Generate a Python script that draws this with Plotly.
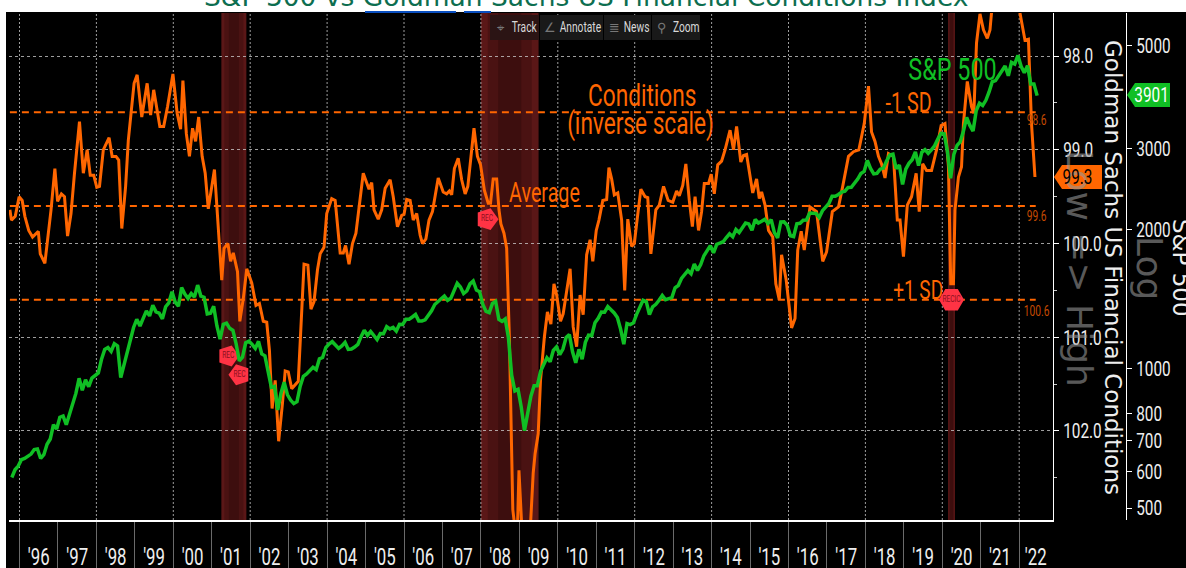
import plotly.graph_objects as go

W, H = 1186, 568
PL, PR, PT, PB = 9, 1053, 13, 520   # plot rectangle in page pixels
R2 = 1126                           # second axis line

# ---------- data ----------
title_text = "S&P 500 vs Goldman Sachs US Financial Conditions Index"
year_ticks = list(range(1996, 2023))
year_labels = ["'%02d" % (y % 100) for y in year_ticks]
grid_years = list(range(1996, 2023, 2))
recessions = [(2001.25, 2001.90), (2008.00, 2009.50), (2020.15, 2020.33)]

left_ticks = [98, 99, 100, 101, 102]
left_minor = [98.5, 99.5, 100.5, 101.5, 102.5]
right_ticks = [500, 600, 700, 800, 1000, 2000, 3000, 5000]
sd_levels = [98.6, 99.6, 100.6]
sd_labels = ["98.6", "99.6", "100.6"]
sd_span = [1995.75, 2022.43]

spx_start = 1995.80
spx = [582, 605, 616,
       636, 640, 646, 654, 669, 671, 640, 652, 687, 705, 757, 741,
       786, 791, 757, 801, 848, 885, 954, 899, 947, 915, 955, 970,
       980, 1049, 1102, 1112, 1091, 1134, 1121, 957, 1017, 1099, 1164, 1229,
       1280, 1238, 1286, 1335, 1302, 1373, 1329, 1320, 1283, 1363, 1389, 1469,
       1394, 1366, 1499, 1452, 1421, 1455, 1431, 1518, 1437, 1429, 1315, 1320,
       1366, 1240, 1160, 1249, 1256, 1224, 1211, 1134, 1041, 1060, 1139, 1148,
       1130, 1107, 1147, 1077, 1067, 990, 912, 916, 815, 886, 936, 880,
       856, 841, 849, 917, 964, 975, 990, 1008, 996, 1051, 1058, 1112,
       1131, 1145, 1126, 1107, 1121, 1141, 1102, 1104, 1115, 1130, 1174, 1212,
       1181, 1204, 1181, 1157, 1192, 1191, 1234, 1220, 1229, 1207, 1249, 1248,
       1280, 1281, 1295, 1311, 1270, 1270, 1277, 1304, 1336, 1378, 1401, 1418,
       1438, 1407, 1421, 1482, 1531, 1503, 1455, 1474, 1527, 1549, 1481, 1468,
       1379, 1331, 1323, 1386, 1400, 1280, 1267, 1283, 1166, 969, 896, 903,
       826, 735, 798, 873, 919, 919, 987, 1021, 1057, 1036, 1096, 1115,
       1074, 1104, 1169, 1187, 1089, 1031, 1102, 1049, 1141, 1183, 1181, 1258,
       1286, 1327, 1326, 1364, 1345, 1321, 1292, 1219, 1131, 1253, 1247, 1258,
       1312, 1366, 1408, 1398, 1310, 1362, 1379, 1407, 1441, 1412, 1416, 1426,
       1498, 1515, 1569, 1598, 1631, 1606, 1686, 1633, 1682, 1757, 1806, 1848,
       1783, 1859, 1872, 1884, 1924, 1960, 1931, 2003, 1972, 2018, 2068, 2059,
       1995, 2105, 2068, 2086, 2107, 2063, 2104, 1972, 1920, 2079, 2080, 2044,
       1940, 1932, 2060, 2065, 2097, 2099, 2174, 2171, 2168, 2126, 2199, 2239,
       2279, 2364, 2363, 2384, 2412, 2423, 2470, 2472, 2519, 2575, 2648, 2674,
       2824, 2714, 2641, 2648, 2705, 2718, 2816, 2902, 2914, 2712, 2760, 2507,
       2704, 2784, 2834, 2946, 2752, 2942, 2980, 2926, 2977, 3038, 3141, 3231,
       3226, 2954, 2585, 2912, 3044, 3100, 3271, 3500, 3363, 3270, 3622, 3756,
       3714, 3811, 3973, 4181, 4204, 4298, 4395, 4523, 4308, 4605, 4567, 4766,
       4516, 4374, 4530, 4132, 4132, 3901]

gs_dates = [1995.75, 1995.79, 1995.89, 1995.99, 1996.07, 1996.14, 1996.24, 1996.34, 1996.49, 1996.54,
            1996.66, 1996.82, 1996.92, 1996.99, 1997.09, 1997.17, 1997.25, 1997.34, 1997.43, 1997.56,
            1997.66, 1997.76, 1997.84, 1997.93, 1998.01, 1998.08, 1998.18, 1998.33, 1998.41, 1998.51,
            1998.58, 1998.66, 1998.76, 1998.83, 1998.98, 1999.06, 1999.18, 1999.32, 1999.41, 1999.49,
            1999.65, 1999.75, 1999.85, 1999.99, 2000.10, 2000.19, 2000.25, 2000.34, 2000.42, 2000.50,
            2000.58, 2000.66, 2000.75, 2000.83, 2000.91, 2001.07, 2001.26, 2001.32, 2001.42, 2001.49,
            2001.56, 2001.67, 2001.73, 2001.82, 2001.91, 2002.04, 2002.15, 2002.24, 2002.34, 2002.43,
            2002.50, 2002.57, 2002.65, 2002.74, 2002.84, 2002.91, 2002.99, 2003.08, 2003.25, 2003.32,
            2003.40, 2003.50, 2003.58, 2003.66, 2003.75, 2003.82, 2003.92, 2003.99, 2004.12, 2004.21,
            2004.34, 2004.42, 2004.48, 2004.57, 2004.66, 2004.75, 2004.94, 2005.09, 2005.16, 2005.22,
            2005.33, 2005.42, 2005.51, 2005.64, 2005.72, 2005.83, 2005.94, 2006.00, 2006.07, 2006.16,
            2006.24, 2006.33, 2006.42, 2006.48, 2006.57, 2006.65, 2006.74, 2006.89, 2007.02, 2007.11,
            2007.18, 2007.24, 2007.31, 2007.41, 2007.50, 2007.59, 2007.66, 2007.82, 2007.91, 2007.99,
            2008.09, 2008.19, 2008.25, 2008.32, 2008.41, 2008.47, 2008.52, 2008.60, 2008.67, 2008.74,
            2008.78, 2008.83, 2008.89, 2008.95, 2008.99, 2009.06, 2009.15, 2009.29, 2009.36, 2009.41,
            2009.49, 2009.55, 2009.65, 2009.73, 2009.82, 2009.90, 2009.97, 2010.07, 2010.14, 2010.32,
            2010.40, 2010.49, 2010.58, 2010.66, 2010.75, 2010.84, 2010.91, 2011.00, 2011.07, 2011.17,
            2011.27, 2011.33, 2011.40, 2011.47, 2011.56, 2011.66, 2011.74, 2011.82, 2011.92, 2011.99,
            2012.05, 2012.16, 2012.27, 2012.34, 2012.42, 2012.55, 2012.64, 2012.75, 2012.87, 2012.99,
            2013.09, 2013.16, 2013.25, 2013.33, 2013.42, 2013.50, 2013.57, 2013.66, 2013.74, 2013.81,
            2013.92, 2013.99, 2014.07, 2014.16, 2014.26, 2014.35, 2014.48, 2014.57, 2014.65, 2014.76,
            2014.83, 2014.91, 2015.07, 2015.17, 2015.24, 2015.30, 2015.39, 2015.48, 2015.59, 2015.67,
            2015.76, 2015.82, 2015.94, 2015.99, 2016.08, 2016.17, 2016.24, 2016.33, 2016.41, 2016.56,
            2016.73, 2016.89, 2016.99, 2017.14, 2017.30, 2017.41, 2017.56, 2017.69, 2017.83, 2017.97,
            2018.08, 2018.16, 2018.25, 2018.34, 2018.42, 2018.51, 2018.60, 2018.73, 2018.83, 2018.90,
            2018.99, 2019.09, 2019.20, 2019.32, 2019.40, 2019.49, 2019.59, 2019.72, 2019.85, 2019.97,
            2020.07, 2020.16, 2020.22, 2020.29, 2020.33, 2020.42, 2020.50, 2020.55, 2020.65, 2020.76,
            2020.82, 2020.89, 2020.98, 2021.07, 2021.17, 2021.24, 2021.31, 2021.50, 2021.80, 2022.02,
            2022.15, 2022.24, 2022.32, 2022.41]
gs_values = [99.64, 99.75, 99.71, 99.50, 99.54, 99.71, 99.86, 99.93, 99.87, 100.11,
             100.21, 99.64, 99.20, 99.55, 99.47, 99.50, 99.92, 99.68, 99.25, 98.70,
             99.25, 99.00, 99.27, 99.27, 99.40, 99.39, 99.00, 98.87, 99.07, 99.07,
             99.11, 99.84, 99.39, 98.90, 98.29, 98.20, 98.65, 98.29, 98.63, 98.36,
             98.75, 98.75, 98.54, 98.19, 98.61, 98.78, 98.26, 98.83, 99.07, 98.77,
             98.91, 98.65, 99.07, 99.25, 99.63, 99.21, 100.39, 100.05, 100.00, 100.19,
             100.10, 100.30, 100.83, 100.59, 100.27, 100.42, 100.66, 100.64, 100.83, 100.84,
             101.14, 101.76, 101.46, 102.11, 101.70, 101.36, 101.37, 101.55, 101.47, 100.82,
             100.22, 100.23, 100.70, 100.62, 100.28, 100.11, 100.04, 99.68, 99.52, 99.54,
             100.10, 100.10, 100.02, 100.22, 100.00, 99.89, 99.25, 99.42, 99.35, 99.64,
             99.74, 99.64, 99.41, 99.32, 99.50, 99.82, 99.70, 99.69, 99.53, 99.54,
             99.75, 99.68, 99.91, 100.00, 99.95, 99.75, 99.66, 99.30, 99.45, 99.47,
             99.44, 99.48, 99.20, 99.09, 99.32, 99.47, 99.39, 98.77, 99.07, 99.16,
             99.43, 99.57, 99.57, 99.31, 99.31, 99.64, 99.79, 99.89, 100.05, 100.99,
             101.99, 102.84, 103.05, 103.05, 102.42, 103.00, 103.40, 103.00, 102.45, 102.24,
             102.03, 101.46, 101.00, 100.73, 100.86, 100.43, 100.55, 100.83, 100.75, 100.27,
             100.89, 101.10, 100.55, 100.76, 100.12, 99.96, 100.19, 99.86, 99.75, 99.54,
             99.53, 99.19, 99.31, 99.48, 99.46, 99.75, 100.50, 99.74, 100.03, 100.00,
             99.79, 99.42, 99.50, 99.51, 100.11, 99.64, 99.59, 99.39, 99.54, 99.56,
             99.44, 99.49, 99.38, 99.15, 99.54, 99.82, 99.50, 99.86, 99.66, 99.36,
             99.36, 99.26, 99.47, 99.16, 99.12, 99.00, 98.79, 99.00, 98.75, 99.13,
             99.06, 99.05, 99.46, 99.31, 99.52, 99.45, 99.59, 99.86, 99.93, 100.43,
             100.60, 100.12, 100.39, 100.57, 100.90, 100.80, 100.07, 99.87, 100.07, 99.61,
             99.66, 100.19, 100.09, 99.66, 99.61, 99.39, 99.07, 99.02, 99.00, 98.72,
             98.32, 98.81, 98.91, 99.07, 99.15, 99.30, 99.04, 99.07, 99.75, 99.75,
             100.14, 99.59, 99.50, 99.25, 99.66, 99.15, 99.22, 99.22, 99.00, 98.74,
             98.72, 99.18, 100.43, 100.43, 99.64, 99.29, 99.18, 98.72, 98.27, 98.54,
             98.61, 97.86, 97.55, 97.72, 97.81, 97.72, 97.40, 97.30, 97.30, 97.54,
             97.83, 97.82, 98.72, 99.29]

rec_dates = [2001.43, 2001.72, 2008.16, 2020.24]
rec_levels = [101.20, 101.40, 99.74, 100.60]
rec_text = ["REC", "REC", "REC", "RECIC"]

spx_x = [spx_start + i / 12 for i in range(len(spx))]

# ---------- pixel helpers for page decorations ----------
ph = PB - PT
fx = lambda px: (px - PL) / (R2 - PL)
fy = lambda py: (PB - py) / ph
yr_lo = 1996 + (PL - 19.5) / 38.45
yr_hi = 1996 + (PR - 19.5) / 38.45

ORANGE = "#ff6600"
GREEN = "#10bf24"
NARROW = "Roboto, 'Narrowed', sans-serif"
DEJA = "DejaVu Sans, sans-serif"

fig = go.Figure()

for lvl in sd_levels:
    fig.add_trace(go.Scatter(x=sd_span, y=[lvl, lvl], mode="lines", yaxis="y",
                             line=dict(color=ORANGE, width=2, dash="7px,5px"), hoverinfo="skip"))
fig.add_trace(go.Scatter(x=gs_dates, y=gs_values, mode="lines", yaxis="y",
                         line=dict(color=ORANGE, width=3), hoverinfo="skip"))
fig.add_trace(go.Scatter(x=spx_x, y=spx, mode="lines", yaxis="y2",
                         line=dict(color=GREEN, width=3.5), hoverinfo="skip"))
fig.add_trace(go.Scatter(
    x=rec_dates, y=rec_levels, mode="markers+text", yaxis="y", text=rec_text,
    textfont=dict(size=9, color="#8a1020", family=NARROW), textposition="middle center",
    marker=dict(symbol=["pentagon", "pentagon", "pentagon", "hexagon2"], angle=[90, -90, 90, 0],
                size=[22, 22, 23, 25], color="#ff3344", opacity=1, line=dict(width=0)),
    hoverinfo="skip"))

shapes = []
shapes.append(dict(type="rect", xref="paper", yref="paper", layer="below",
                   x0=fx(6), x1=fx(W + 5), y0=fy(H + 5), y1=fy(12), fillcolor="#000", line_width=0))
for a, b in recessions:
    w = b - a
    # stepped shading: brighter edges, darker middle
    for inset, col in [(0.0, "#5a1717"), (0.12, "#4a1212"), (0.3, "#3d0e0e")]:
        shapes.append(dict(type="rect", xref="x", yref="paper", layer="below",
                           x0=a + inset * w, x1=b - inset * w, y0=0, y1=1, fillcolor=col, line_width=0))
for y in grid_years:
    shapes.append(dict(type="line", xref="x", yref="paper", layer="below", x0=y, x1=y, y0=0, y1=1,
                       line=dict(color="rgba(210,210,210,0.75)", width=1, dash="2px,2px")))
# blue link underlines under the clipped title
for a, b in [(365, 456), (464, 491)]:
    shapes.append(dict(type="line", xref="paper", yref="paper", x0=fx(a), x1=fx(b), y0=fy(12), y1=fy(12),
                       line=dict(color="#0a4fc0", width=2)))
# toolbar
for a, b, c in [(490, 539, "#2b1414"), (540, 603, "#191919"), (604, 651, "#191919"), (652, 700, "#191919")]:
    shapes.append(dict(type="rect", xref="paper", yref="paper", x0=fx(a), x1=fx(b), y0=fy(40), y1=fy(15),
                       fillcolor=c, line_width=0))


def tag(x0, x1, y0, y1, color):
    tip = x0 - 5
    mid = (y0 + y1) / 2
    path = "M %f,%f L %f,%f L %f,%f L %f,%f L %f,%f Z" % (
        fx(tip), fy(mid), fx(x0 + 3), fy(y0), fx(x1), fy(y0), fx(x1), fy(y1), fx(x0 + 3), fy(y1))
    return dict(type="path", xref="paper", yref="paper", path=path, fillcolor=color, line_width=0)


shapes.append(tag(1059, 1102, 165, 189, ORANGE))
shapes.append(tag(1132, 1170, 83, 107, GREEN))

anns = []


def note(x, y, text, size, color, family=NARROW, angle=0):
    anns.append(dict(xref="paper", yref="paper", x=fx(x), y=fy(y), text=text, showarrow=False,
                     xanchor="center", yanchor="middle", textangle=angle,
                     font=dict(size=size, color=color, family=family)))


note(586, -4, title_text, 26.5, "#0d6e50", DEJA)
note(1080, 268, "Low => High", 36, "rgba(150,150,150,0.6)", DEJA, 90)
note(1150, 268, "Log", 36, "rgba(150,150,150,0.6)", DEJA, 90)
note(1113, 267, "Goldman Sachs US Financial Conditions", 23, "#eeeeee", DEJA, 90)
note(1181, 268, "S&P 500", 23, "#eeeeee", DEJA, 90)
note(642, 96, "Conditions", 31, ORANGE)
note(640, 123, "(inverse scale)", 31, ORANGE)
note(544, 193, "Average", 27, ORANGE)
note(908, 103, "-1 SD", 27, ORANGE)
note(918, 290, "+1 SD", 26, ORANGE)
note(952, 69, "S&P 500", 32, GREEN)
for lab, yy in zip(sd_labels, [120, 216, 311]):
    note(1036, yy, lab, 14, "#c54a00")
note(1077, 177, "99.3", 21, "#000000")
note(1151, 95, "3901", 21, "#ffffff")
for x, txt in [(524, "Track"), (580, "Annotate"), (636.5, "News"), (686, "Zoom")]:
    note(x, 27, txt, 14, "#d8d8d8")
for x, txt in [(501, "⌖"), (550, "∠"), (614, "≣"), (662, "⚲")]:
    note(x, 27, txt, 13, "#777777", DEJA)

fig.update_layout(
    width=W, height=H, showlegend=False, autosize=False,
    margin=dict(l=PL, r=W - R2, t=PT, b=H - PB, pad=0),
    paper_bgcolor="#ffffff", plot_bgcolor="rgba(0,0,0,0)",
    shapes=shapes, annotations=anns,
    xaxis=dict(domain=[0, (PR - PL) / (R2 - PL)], range=[yr_lo, yr_hi], anchor="y", automargin=False,
               tickmode="array",
               tickvals=[y + 0.5 if y < 2022 else 2022.43 for y in year_ticks], ticktext=year_labels,
               ticks="outside", ticklen=15, tickcolor="rgba(0,0,0,0)",
               tickfont=dict(size=23, color="#eeeeee", family=NARROW),
               showgrid=False, zeroline=False, showline=True, linecolor="#ffffff", linewidth=2,
               minor=dict(tickmode="array", tickvals=year_ticks, ticks="outside", ticklen=48,
                          tickcolor="#6a6a6a", tickwidth=1, showgrid=False)),
    yaxis=dict(range=[102.95, 97.54], side="right", anchor="x", tickmode="array", tickvals=left_ticks,
               automargin=False, tickformat=".1f", ticks="outside", ticklen=5, tickcolor="#ffffff", tickwidth=1,
               tickfont=dict(size=21, color="#eeeeee", family=NARROW),
               showgrid=True, gridcolor="rgba(210,210,210,0.75)", griddash="dot", gridwidth=1,
               zeroline=False, showline=True, linecolor="#ffffff", linewidth=1,
               minor=dict(tickmode="array", tickvals=left_minor, ticks="outside", ticklen=3,
                          tickcolor="#cccccc", showgrid=False)),
    yaxis2=dict(type="log", range=[2.673, 3.770], overlaying="y", side="right", anchor="free", position=1,
                automargin=False, tickmode="array", tickvals=right_ticks, ticktext=[str(v) for v in right_ticks],
                ticks="outside", ticklen=5, tickcolor="#ffffff",
                tickfont=dict(size=21, color="#eeeeee", family=NARROW),
                showgrid=False, zeroline=False, showline=True, linecolor="#ffffff", linewidth=1),
)

# The original uses a narrow terminal font: condense the Roboto labels without turning them into shapes.
post = """
document.body.style.margin='0';document.documentElement.style.overflow='hidden';
function squeeze(){
  document.querySelectorAll('svg text').forEach(function(t){
    if((t.style.fontFamily||'').indexOf('Narrowed')<0||t.getAttribute('data-squeezed'))return;
    var n=t.getComputedTextLength();
    if(n>0){t.setAttribute('textLength',n*0.73);t.setAttribute('lengthAdjust','spacingAndGlyphs');t.setAttribute('data-squeezed','1');}
  });
}
var gd=document.getElementById('{plot_id}');
squeeze();gd.on('plotly_afterplot',squeeze);setTimeout(squeeze,200);
"""
fig.write_html("out.html", config=dict(displayModeBar=False), post_script=post)
